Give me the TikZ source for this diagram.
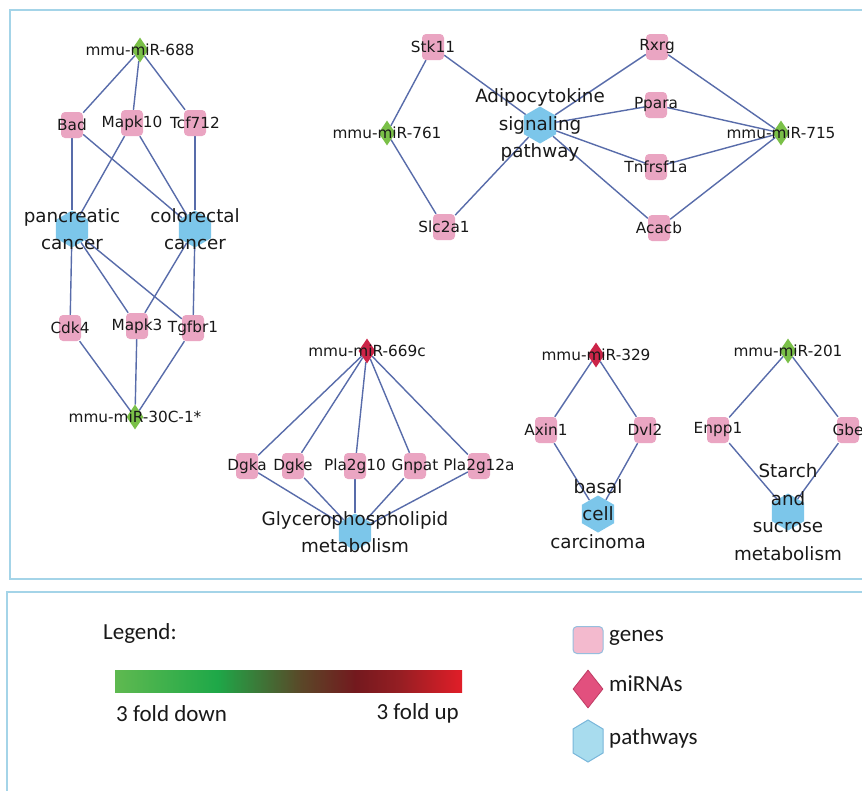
\documentclass[tikz,border=0pt]{standalone}
\usepackage{fontspec}
\setmainfont{DejaVu Sans}
\newfontfamily\legfont{Carlito}
\usetikzlibrary{shapes.geometric}
\pgfdeclarelayer{background}
\pgfsetlayers{background,main}
\definecolor{genepink}{RGB}{234,165,194}
\definecolor{pwyblue}{RGB}{124,198,234}
\definecolor{mirgreen}{RGB}{122,192,72}
\definecolor{mirred}{RGB}{204,36,72}
\definecolor{edgeblue}{RGB}{88,108,170}
\definecolor{framec}{RGB}{164,212,232}
\definecolor{txt}{RGB}{25,25,25}
\definecolor{leggene}{RGB}{243,186,206}
\definecolor{leggeneb}{RGB}{150,190,222}
\definecolor{legmir}{RGB}{226,80,126}
\definecolor{legmirb}{RGB}{190,60,100}
\definecolor{legpwy}{RGB}{168,220,238}
\definecolor{legpwyb}{RGB}{120,182,218}
\definecolor{gA}{RGB}{95,185,80}
\definecolor{gB}{RGB}{30,168,72}
\definecolor{gC}{RGB}{90,72,40}
\definecolor{gD}{RGB}{115,25,30}
\definecolor{gE}{RGB}{150,30,35}
\definecolor{gF}{RGB}{225,30,40}
\begin{document}
\begin{tikzpicture}[x=1pt,y=-1pt,
 gene/.style={rectangle,rounded corners=4pt,fill=genepink,minimum width=22pt,minimum height=26pt,inner sep=0pt},
 mirg/.style={diamond,fill=mirgreen,minimum width=17pt,minimum height=25pt,inner sep=0pt},
 mirr/.style={mirg,fill=mirred},
 pwy/.style={regular polygon,regular polygon sides=6,shape border rotate=30,fill=pwyblue,minimum size=37pt,inner sep=0pt},
 lab/.style={font=\fontsize{15.3}{18}\selectfont,text=txt,inner sep=0pt},
 plab/.style={font=\fontsize{18.3}{27.5}\selectfont,align=center,text=txt,inner sep=0pt},
 edge/.style={draw=edgeblue,line width=1.4pt},
 frame/.style={draw=framec,line width=2pt},
 leg/.style={font=\legfont\fontsize{23}{26}\selectfont,text=txt,inner sep=0pt,anchor=west}]
\useasboundingbox (0,0) rectangle (862,790);

% ---------- top-left network ----------
\node[mirg,label={[lab]center:mmu-miR-688}] (m688) at (140,50) {};
\node[gene,label={[lab]center:Bad}] (bad) at (72,125) {};
\node[gene,label={[lab]center:Mapk10}] (mapk10) at (132,123) {};
\node[gene,label={[lab]center:Tcf712}] (tcf) at (195,123) {};
\node[pwy,label={[plab]center:{pancreatic\\cancer}}] (panc) at (72,229) {};
\node[pwy,label={[plab]center:{colorectal\\cancer}}] (colo) at (195,229) {};
\node[gene,label={[lab]center:Cdk4}] (cdk4) at (70,328) {};
\node[gene,label={[lab]center:Mapk3}] (mapk3) at (137,326) {};
\node[gene,label={[lab]center:Tgfbr1}] (tgfbr1) at (193,328) {};
\node[mirg,label={[lab]center:mmu-miR-30C-1*}] (m30c) at (135,417) {};

% ---------- top-right network ----------
\node[mirg,label={[lab]center:mmu-miR-761}] (m761) at (387,133) {};
\node[gene,label={[lab]center:Stk11}] (stk11) at (433,47) {};
\node[gene,label={[lab]center:Slc2a1}] (slc2a1) at (444,227) {};
\node[pwy,label={[plab]center:{Adipocytokine\\signaling\\pathway}}] (adipo) at (540,125) {};
\node[gene,label={[lab]center:Rxrg}] (rxrg) at (657,47) {};
\node[gene,label={[lab]center:Ppara}] (ppara) at (656,105) {};
\node[gene,label={[lab]center:Tnfrsf1a}] (tnf) at (656,167) {};
\node[gene,label={[lab]center:Acacb}] (acacb) at (659,228) {};
\node[mirg,label={[lab]center:mmu-miR-715}] (m715) at (781,133) {};

% ---------- bottom-middle network ----------
\node[mirr,label={[lab]center:mmu-miR-669c}] (m669) at (367,351) {};
\node[gene,label={[lab]center:Dgka}] (dgka) at (247,466) {};
\node[gene,label={[lab]center:Dgke}] (dgke) at (293,466) {};
\node[gene,label={[lab]center:Pla2g10}] (pla10) at (355,466) {};
\node[gene,label={[lab]center:Gnpat}] (gnpat) at (415,466) {};
\node[gene,label={[lab]center:Pla2g12a}] (pla12) at (479,466) {};
\node[pwy,label={[plab]center:{Glycerophospholipid\\metabolism}}] (glyc) at (355,532) {};

% ---------- bottom-right networks ----------
\node[mirr,label={[lab]center:mmu-miR-329}] (m329) at (596,355) {};
\node[gene,label={[lab]center:Axin1}] (axin1) at (546,430) {};
\node[gene,label={[lab]center:Dvl2}] (dvl2) at (645,430) {};
\node[pwy,label={[plab]center:{basal\\cell\\carcinoma}}] (basal) at (598,514) {};
\node[mirg,label={[lab]center:mmu-miR-201}] (m201) at (788,351) {};
\node[gene,label={[lab]center:Enpp1}] (enpp1) at (718,430) {};
\node[gene,label={[lab]center:Gbe}] (gbe) at (848,430) {};
\node[pwy,label={[plab]center:{Starch\\and\\sucrose\\metabolism}}] (starch) at (788,512) {};

% ---------- legend ----------
\node[leg] (legtitle) at (103,633) {Legend:};
\node[leg] (down) at (116,714) {3 fold down};
\node[leg,anchor=east] (up) at (459,713) {3 fold up};
\node[rectangle,rounded corners=4pt,fill=leggene,draw=leggeneb,line width=1pt,minimum width=30pt,minimum height=27pt,inner sep=0pt] (lgene) at (588,640) {};
\node[diamond,fill=legmir,draw=legmirb,line width=0.8pt,minimum width=30pt,minimum height=38pt,inner sep=0pt] (lmir) at (588,689) {};
\draw[fill=legpwy,draw=legpwyb,line width=1pt] (588,720) -- (603,729) -- (603,753) -- (588,762) -- (573,753) -- (573,729) -- cycle;
\node[leg] (tgenes) at (609,638) {genes};
\node[leg] (tmir) at (609,684) {miRNAs};
\node[leg] (tpwy) at (609,738) {pathways};

\begin{pgfonlayer}{background}
\fill[white] (0,0) rectangle (862,790);
\draw[frame] (10,10) rectangle (880,579);
\draw[frame] (7,592) rectangle (880,800);
% gradient bar
\shade[left color=gA,right color=gB] (115,670) rectangle (217.5,692);
\shade[left color=gB,right color=gC] (217,670) rectangle (300.5,692);
\shade[left color=gC,right color=gD] (300,670) rectangle (355.5,692);
\shade[left color=gD,right color=gE] (355,670) rectangle (400.5,692);
\shade[left color=gE,right color=gF] (400,670) rectangle (462,692);
% edges
\draw[edge] (m688) -- (bad);
\draw[edge] (m688) -- (mapk10);
\draw[edge] (m688) -- (tcf);
\draw[edge] (bad) -- (panc);
\draw[edge] (bad) -- (colo);
\draw[edge] (mapk10) -- (panc);
\draw[edge] (mapk10) -- (colo);
\draw[edge] (tcf) -- (colo);
\draw[edge] (panc) -- (cdk4);
\draw[edge] (panc) -- (mapk3);
\draw[edge] (panc) -- (tgfbr1);
\draw[edge] (colo) -- (mapk3);
\draw[edge] (colo) -- (tgfbr1);
\draw[edge] (cdk4) -- (m30c);
\draw[edge] (mapk3) -- (m30c);
\draw[edge] (tgfbr1) -- (m30c);
\draw[edge] (stk11) -- (m761);
\draw[edge] (m761) -- (slc2a1);
\draw[edge] (stk11) -- (adipo);
\draw[edge] (slc2a1) -- (adipo);
\draw[edge] (adipo) -- (rxrg);
\draw[edge] (adipo) -- (ppara);
\draw[edge] (adipo) -- (tnf);
\draw[edge] (adipo) -- (acacb);
\draw[edge] (rxrg) -- (m715);
\draw[edge] (ppara) -- (m715);
\draw[edge] (tnf) -- (m715);
\draw[edge] (acacb) -- (m715);
\foreach \g in {dgka,dgke,pla10,gnpat,pla12}{
  \draw[edge] (m669) -- (\g);
  \draw[edge] (\g) -- (glyc);
}
\draw[edge] (m329) -- (axin1);
\draw[edge] (m329) -- (dvl2);
\draw[edge] (axin1) -- (basal);
\draw[edge] (dvl2) -- (basal);
\draw[edge] (m201) -- (enpp1);
\draw[edge] (m201) -- (gbe);
\draw[edge] (enpp1) -- (starch);
\draw[edge] (gbe) -- (starch);
\end{pgfonlayer}
\end{tikzpicture}
\end{document}
